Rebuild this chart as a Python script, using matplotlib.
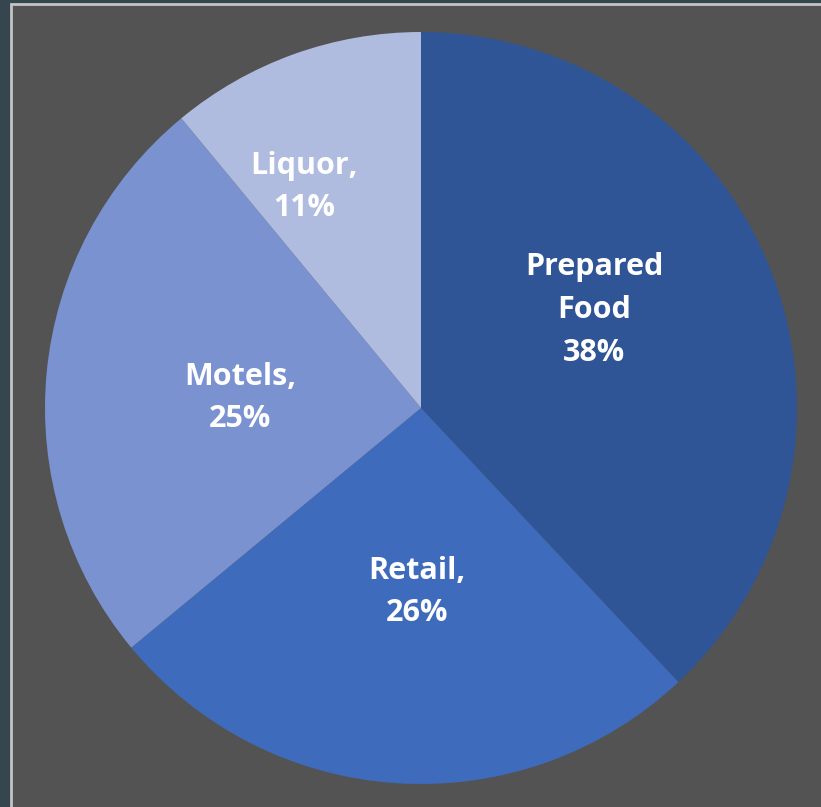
import matplotlib
matplotlib.use("Agg")
import matplotlib.pyplot as plt
from matplotlib.patches import Rectangle

# Share of revenue by category
categories = ["Prepared Food", "Retail", "Motels", "Liquor"]
shares = [38, 26, 25, 11]
slice_colors = ["#2f5597", "#3e6bbb", "#7a92cf", "#afbbdf"]
label_texts = ["Prepared\nFood\n38%", "Retail,\n26%", "Motels,\n25%", "Liquor,\n11%"]
label_pos = [(0.46, 0.261), (-0.011, -0.489), (-0.481, 0.027), (-0.311, 0.588)]

fig = plt.figure(figsize=(8.21, 8.07), dpi=100, facecolor="#36464f")

# grey panel behind the chart
fig.patches.append(Rectangle((11 / 821, -0.01), 1.0, 1 - 4 / 807 + 0.01,
                             transform=fig.transFigure, facecolor="#535353",
                             edgecolor="#c4c4c4", linewidth=2.0, zorder=-10))

ax = fig.add_axes([45 / 821, 23 / 807, 752 / 821, 752 / 807])
ax.set_zorder(5)
ax.set_facecolor("none")
ax.pie(shares, colors=slice_colors, startangle=90, counterclock=False,
       radius=1.0, wedgeprops=dict(linewidth=0))
ax.set_xlim(-1, 1)
ax.set_ylim(-1, 1)
ax.set_aspect("equal")
ax.axis("off")

for txt, (x, y) in zip(label_texts, label_pos):
    ax.text(x, y, txt, ha="center", va="center", color="white",
            fontsize=22, fontweight="bold", family="Open Sans",
            linespacing=1.55)

fig.savefig("out.png", dpi=100, facecolor=fig.get_facecolor())
